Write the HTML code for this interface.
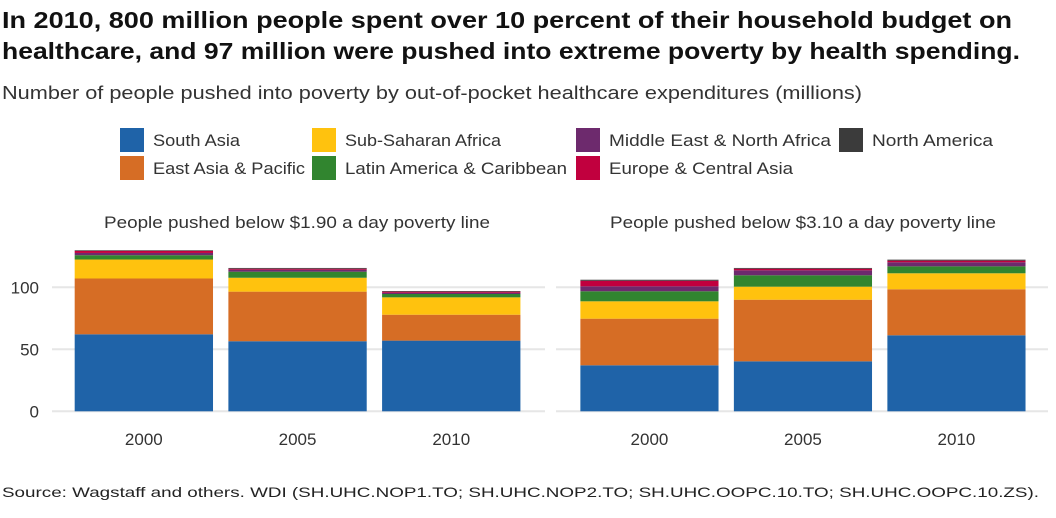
<!DOCTYPE html>
<html><head><meta charset="utf-8"><style>
body{margin:0;background:#fff;width:1056px;height:518px;overflow:hidden;font-family:"Liberation Sans",sans-serif;}
svg{display:block}
</style></head><body>
<svg id="chart" width="1056" height="518" xmlns="http://www.w3.org/2000/svg" font-family="Liberation Sans, sans-serif">
<text x="2" y="28" font-size="23" font-weight="bold" fill="#111" textLength="1010" lengthAdjust="spacingAndGlyphs">In 2010, 800 million people spent over 10 percent of their household budget on</text>
<text x="2" y="59" font-size="23" font-weight="bold" fill="#111" textLength="1018" lengthAdjust="spacingAndGlyphs">healthcare, and 97 million were pushed into extreme poverty by health spending.</text>
<text x="2" y="99" font-size="18.5" fill="#333" textLength="860" lengthAdjust="spacingAndGlyphs">Number of people pushed into poverty by out-of-pocket healthcare expenditures (millions)</text>
<g id="legend"></g>
<g id="plots"></g>
<text x="2" y="497" font-size="14" fill="#222" textLength="1037" lengthAdjust="spacingAndGlyphs">Source: Wagstaff and others. WDI (SH.UHC.NOP1.TO; SH.UHC.NOP2.TO; SH.UHC.OOPC.10.TO; SH.UHC.OOPC.10.ZS).</text>
</svg>
<script>
const categories = ["2000","2005","2010"];
const regions = ["South Asia","East Asia & Pacific","Sub-Saharan Africa","Latin America & Caribbean","Middle East & North Africa","Europe & Central Asia","North America"];
const colors = ["#1f63a8","#d66d25","#ffc20e","#31852f","#6d2a6d","#c1003e","#3b3b3b"];
// $1.90 panel: per region, values for 2000, 2005, 2010
const p190SouthAsia = [62.1,56.5,57];
const p190EastAsia = [45,40,20.9];
const p190SSA = [15.3,11.2,14];
const p190LAC = [3.5,4.9,2.7];
const p190MENA = [1.8,1.6,1];
const p190ECA = [1.7,0.8,0.9];
const p190NA = [0.5,0.6,0.5];
// $3.10 panel
const p310SouthAsia = [37.1,40.3,61.3];
const p310EastAsia = [37.6,49.7,37.1];
const p310SSA = [14,10.5,12.9];
const p310LAC = [8.1,9.2,5.6];
const p310MENA = [4,4,3.3];
const p310ECA = [4.5,1.3,1.3];
const p310NA = [0.8,0.6,0.8];
const yTicks = [0,50,100];

const NS="http://www.w3.org/2000/svg";
function mk(tag,attrs,parent){const e=document.createElementNS(NS,tag);for(const k in attrs)e.setAttribute(k,attrs[k]);parent.appendChild(e);return e;}

const lg=document.getElementById('legend');
const legPos=[[120,140],[120,168],[312,140],[312,168],[576,140],[576,168],[839,140]];
const legW=[87,152,156,222,222,184,121];
regions.forEach((name,r)=>{
  const [x,y]=legPos[r];
  const g=mk('g',{},lg);
  
  
  mk('rect',{x:x,y:y-12,width:24,height:24,fill:colors[r]},g);
  const t=mk('text',{x:x+33,y:y+6,'font-size':17,fill:'#333',textLength:legW[r],lengthAdjust:'spacingAndGlyphs'},g);
  t.textContent=name;
});

const y0=411.3, pxPerUnit=1.24;
function yScale(v){return y0-v*pxPerUnit;}

const panels=[
  {name:'panel-190',title:'People pushed below $1.90 a day poverty line',tx:297,gx0:52,gx1:545,x0:67,step:153.7,labels:true,
   series:[p190SouthAsia,p190EastAsia,p190SSA,p190LAC,p190MENA,p190ECA,p190NA]},
  {name:'panel-310',title:'People pushed below $3.10 a day poverty line',tx:803,gx0:556,gx1:1048,x0:572.7,step:153.5,labels:false,
   series:[p310SouthAsia,p310EastAsia,p310SSA,p310LAC,p310MENA,p310ECA,p310NA]}
];
const plots=document.getElementById('plots');
panels.forEach(p=>{
  const g=mk('g',{},plots);
  
  
  const tt=mk('text',{x:p.tx,y:228,'font-size':17,fill:'#333','text-anchor':'middle',textLength:386,lengthAdjust:'spacingAndGlyphs'},g);
  
  
  tt.textContent=p.title;
  yTicks.forEach(v=>{
    const l=mk('line',{x1:p.gx0,x2:p.gx1,y1:yScale(v),y2:yScale(v),stroke:'#e6e6e6','stroke-width':2},g);
    
    
    if(p.labels){
      const t=mk('text',{x:39,y:yScale(v)+6,'font-size':17,fill:'#333','text-anchor':'end'},g);
      
      
      t.textContent=v;
    }
  });
  const bw=p.step*0.9;
  categories.forEach((c,ci)=>{
    const cx=p.x0+p.step*(ci+0.5);
    let acc=0;
    p.series.forEach((s,si)=>{
      const v=s[ci];
      const r=mk('rect',{x:cx-bw/2,y:yScale(acc+v),width:bw,height:v*pxPerUnit,fill:colors[si]},g);
      
      
      acc+=v;
    });
    const t=mk('text',{x:cx,y:445,'font-size':17,fill:'#333','text-anchor':'middle'},g);
    
    
    t.textContent=c;
  });
});
</script>
</body></html>
